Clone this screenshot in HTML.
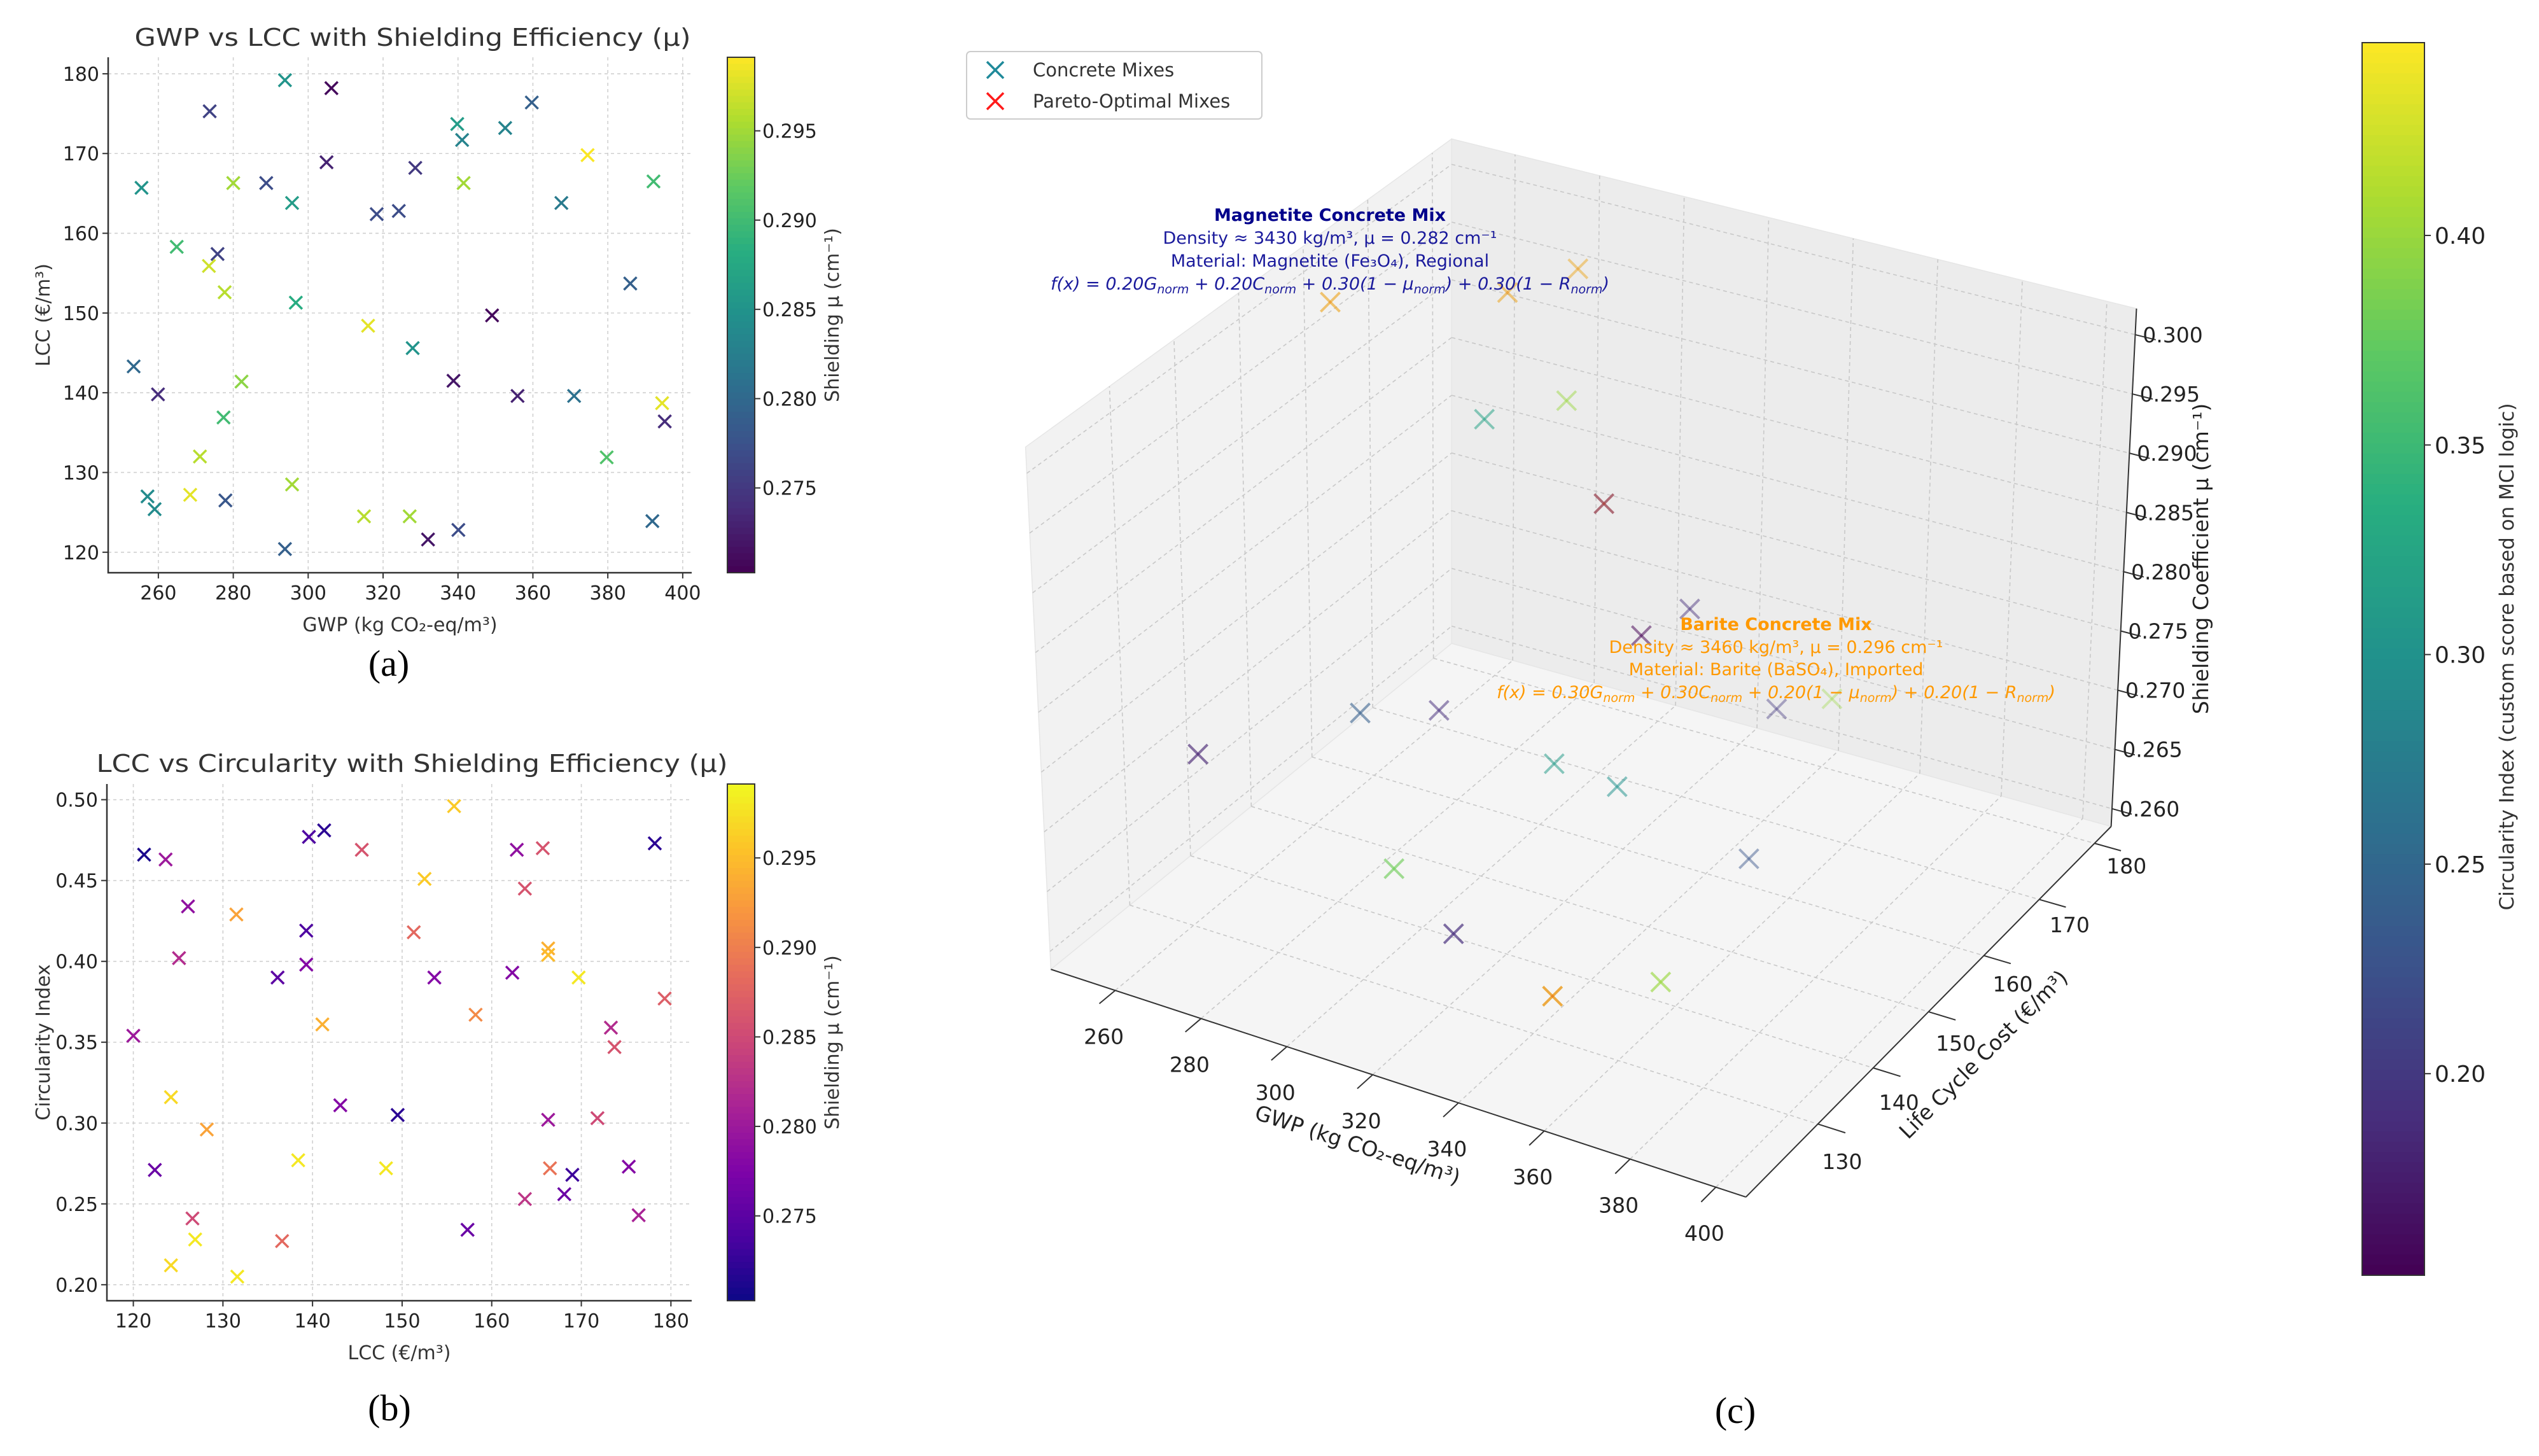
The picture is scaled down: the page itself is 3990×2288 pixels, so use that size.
<!DOCTYPE html>
<html><head><meta charset="utf-8"><style>
html,body{margin:0;padding:0;background:#fff;}
svg{display:block;font-family:"DejaVu Sans","Liberation Sans",sans-serif;}
.cap{font-family:"Liberation Serif",serif;}
</style></head><body>
<svg id="fig" xmlns="http://www.w3.org/2000/svg" width="3990" height="2288" viewBox="0 0 3990 2288">
<rect width="3990" height="2288" fill="#fff"/>
<text class="cap" x="611" y="1062" font-size="58" text-anchor="middle">(a)</text>
<text class="cap" x="612" y="2232" font-size="58" text-anchor="middle">(b)</text>
<text class="cap" x="2727" y="2236" font-size="58" text-anchor="middle">(c)</text>
</svg>
<script>
// ---------- Panel (a) data ----------
const a_gwp=[293.8,306.2,273.7,359.7,339.8,352.6,341.1,374.6,304.9,328.6,255.5,280,288.8,341.5,392.2,295.7,367.6,318.3,324.2,264.9,275.8,273.5,277.7,386,296.7,316,349.1,327.9,253.4,282.2,338.8,259.9,355.9,371.0,394.5,395.2,277.4,271.1,379.7,257.1,259,268.5,277.9,295.7,314.9,327.1,332,340.1,293.8,391.9];
const a_lcc=[179.2,178.2,175.3,176.4,173.7,173.2,171.7,169.8,168.9,168.2,165.7,166.3,166.3,166.3,166.5,163.8,163.8,162.4,162.8,158.3,157.4,155.9,152.6,153.7,151.3,148.4,149.7,145.6,143.3,141.4,141.5,139.8,139.6,139.6,138.7,136.4,136.9,132.0,131.9,127.0,125.4,127.2,126.5,128.5,124.5,124.5,121.6,122.8,120.4,123.9];
const a_mu=[0.285,0.271,0.276,0.279,0.286,0.283,0.283,0.299,0.273,0.275,0.285,0.295,0.277,0.295,0.290,0.286,0.282,0.277,0.277,0.290,0.276,0.297,0.296,0.279,0.288,0.298,0.271,0.285,0.280,0.294,0.272,0.274,0.273,0.281,0.298,0.274,0.290,0.296,0.291,0.284,0.284,0.298,0.278,0.295,0.296,0.295,0.272,0.277,0.279,0.280];
const a_xticks=[260,280,300,320,340,360,380,400];
const a_yticks=[120,130,140,150,160,170,180];
const a_cticks=[0.275,0.280,0.285,0.290,0.295];
// ---------- Panel (b) data ----------
const b_lcc=[121.2,123.6,126.1,125.1,120,124.2,128.2,122.4,126.6,126.9,124.2,131.6,131.5,136.1,139.3,139.6,141.3,139.3,141.1,143.1,138.4,136.6,145.5,149.5,148.2,152.5,151.3,153.6,155.8,158.2,157.3,162.8,162.3,165.7,163.7,166.3,166.3,166.3,163.7,166.5,169,168.1,169.7,171.8,173.3,173.7,175.3,176.4,178.2,179.3];
const b_circ=[0.466,0.463,0.434,0.402,0.354,0.316,0.296,0.271,0.241,0.228,0.212,0.205,0.429,0.390,0.419,0.477,0.481,0.398,0.361,0.311,0.277,0.227,0.469,0.305,0.272,0.451,0.418,0.390,0.496,0.367,0.234,0.469,0.393,0.470,0.445,0.408,0.404,0.302,0.253,0.272,0.268,0.256,0.390,0.303,0.359,0.347,0.273,0.243,0.473,0.377];
const b_mu=[0.271,0.280,0.279,0.282,0.280,0.297,0.293,0.276,0.285,0.298,0.297,0.298,0.293,0.275,0.274,0.274,0.272,0.278,0.294,0.278,0.298,0.288,0.286,0.272,0.298,0.296,0.288,0.278,0.296,0.291,0.276,0.279,0.278,0.286,0.286,0.294,0.295,0.280,0.283,0.289,0.273,0.276,0.298,0.285,0.282,0.286,0.278,0.281,0.272,0.287];
const b_xticks=[120,130,140,150,160,170,180];
const b_yticks=[0.20,0.25,0.30,0.35,0.40,0.45,0.50];
const b_cticks=[0.275,0.280,0.285,0.290,0.295];
// ---------- Panel (c) data ----------
const c_gwp=[256.2,287.6,294.4,301.2,310.8,328.8,339.9,337.7,351.8,356.0,281.1,290.2,252.3,317.4,332.3,354.8,298.0,321.1,348.7,360.8];
const c_lcc=[156.6,163.2,169.8,150.0,156.6,150.0,156.6,150.0,163.2,169.8,143.4,150.0,136.8,150.0,150.0,156.6,136.8,130.2,126.9,136.8];
const c_mu=[0.2998,0.3008,0.3008,0.2966,0.2964,0.2921,0.2818,0.2821,0.2719,0.2703,0.2729,0.2713,0.2692,0.2696,0.2692,0.2627,0.2645,0.2644,0.2637,0.2619];
const c_circ=[0.44,0.44,0.44,0.32,0.40,0.16,0.19,0.15,0.20,0.40,0.24,0.19,0.18,0.31,0.30,0.23,0.38,0.19,0.44,0.40];
const c_pareto=[1,1,1,0,0,1,0,0,0,0,0,0,0,0,0,0,0,0,1,0];
const c_gticks=[260,280,300,320,340,360,380,400];
const c_lticks=[130,140,150,160,170,180];
const c_zticks=[0.260,0.265,0.270,0.275,0.280,0.285,0.290,0.295,0.300];
const c_cticks=[0.20,0.25,0.30,0.35,0.40];

const NS='http://www.w3.org/2000/svg';
const svg=document.getElementById('fig');
function mk(tag,parent){const e=document.createElementNS(NS,tag);parent.appendChild(e);return e;}
function at(e,o){for(const k in o)e.setAttribute(k,o[k]);return e;}
function lerpStops(stops,t){t=Math.max(0,Math.min(1,t));const n=stops.length-1;const i=Math.min(n-1,Math.floor(t*n));const f=t*n-i;
 const h=s=>[parseInt(s.substr(1,2),16),parseInt(s.substr(3,2),16),parseInt(s.substr(5,2),16)];
 const a=h(stops[i]),b=h(stops[i+1]);return 'rgb('+a.map((v,k)=>Math.round(v+(b[k]-v)*f)).join(',')+')';}
const VIR=['#440154','#472d7b','#3b528b','#2c728e','#21918c','#28ae80','#5ec962','#addc30','#fde725'];
const PLA=['#0d0887','#4c02a1','#7e03a8','#a92395','#cc4778','#e56b5d','#f89540','#fdc328','#f0f921'];
function drawX(parent,cx,cy,col,hs,sw,op){const g=mk('g',parent);
 at(mk('line',g),{x1:cx-hs,y1:cy-hs,x2:cx+hs,y2:cy+hs,stroke:col,'stroke-width':sw,'stroke-opacity':op});
 at(mk('line',g),{x1:cx-hs,y1:cy+hs,x2:cx+hs,y2:cy-hs,stroke:col,'stroke-width':sw,'stroke-opacity':op});return g;}
function txt(parent,x,y,s,size,anchor,extra){const t=mk('text',parent);at(t,{x:x,y:y,'font-size':size,'text-anchor':anchor||'start',fill:'#222'});if(extra)at(t,extra);t.textContent=s;return t;}

// ---------- 2D panel helper ----------
function panel2D(cfg){
 const g=mk('g',svg);
 const sx=v=>cfg.L+(v-cfg.x0)/(cfg.x1-cfg.x0)*(cfg.R-cfg.L);
 const sy=v=>cfg.B-(v-cfg.y0)/(cfg.y1-cfg.y0)*(cfg.B-cfg.T);
 cfg.xt.forEach(v=>{const l=at(mk('line',g),{x1:sx(v),x2:sx(v),y1:cfg.T,y2:cfg.B,stroke:'#d0d0d0','stroke-width':1.6,'stroke-dasharray':'5,5'});
   
   
   at(mk('line',g),{x1:sx(v),x2:sx(v),y1:cfg.B,y2:cfg.B+9,stroke:'#333','stroke-width':2});
   const t=txt(g,sx(v),cfg.B+42,cfg.xfmt(v),30,'middle');
   
   });
 cfg.yt.forEach(v=>{const l=at(mk('line',g),{x1:cfg.L,x2:cfg.R,y1:sy(v),y2:sy(v),stroke:'#d0d0d0','stroke-width':1.6,'stroke-dasharray':'5,5'});
   
   
   at(mk('line',g),{x1:cfg.L-9,x2:cfg.L,y1:sy(v),y2:sy(v),stroke:'#333','stroke-width':2});
   const t=txt(g,cfg.L-14,sy(v)+11,cfg.yfmt(v),30,'end');
   
   });
 const sp=at(mk('path',g),{d:`M${cfg.L},${cfg.T}V${cfg.B}H${cfg.R}`,fill:'none',stroke:'#333','stroke-width':2.5});
 
 
 for(let i=0;i<cfg.xs.length;i++){
   const m=drawX(g,sx(cfg.xs[i]),sy(cfg.ys[i]),lerpStops(cfg.cmap,(cfg.cs[i]-cfg.c0)/(cfg.c1-cfg.c0)),10,3.5,1);
   
   
 }
 const ti=txt(g,(cfg.L+cfg.R)/2+20,cfg.titleY,cfg.title,38,'middle',{textLength:cfg.titleW,lengthAdjust:'spacingAndGlyphs',fill:'#333'});
 
 
 const xl=txt(g,(cfg.L+cfg.R)/2,cfg.B+92,cfg.xlabel,30,'middle',{fill:'#333'});
 
 
 const yc=(cfg.T+cfg.B)/2;
 const yl=txt(g,0,0,cfg.ylabel,30,'middle',{transform:`translate(78,${yc}) rotate(-90)`,fill:'#333'});
 
 
 const cb=mk('g',g);
 
 
 const N=80,cx0=1143,cw=43;
 for(let k=0;k<N;k++){const y0=cfg.T+(cfg.B-cfg.T)*k/N;at(mk('rect',cb),{x:cx0,y:y0,width:cw,height:(cfg.B-cfg.T)/N+1,fill:lerpStops(cfg.cmap,1-(k+0.5)/N)});}
 at(mk('rect',cb),{x:cx0,y:cfg.T,width:cw,height:cfg.B-cfg.T,fill:'none',stroke:'#333','stroke-width':2});
 const cy=v=>cfg.B-(v-cfg.cb0)/(cfg.cb1-cfg.cb0)*(cfg.B-cfg.T);
 cfg.ct.forEach(v=>{at(mk('line',cb),{x1:cx0+cw,x2:cx0+cw+9,y1:cy(v),y2:cy(v),stroke:'#333','stroke-width':2});
   const t=txt(cb,cx0+cw+12,cy(v)+11,v.toFixed(3),30,'start');
   
   });
 const cl=txt(cb,0,0,'Shielding μ (cm⁻¹)',30,'middle',{transform:`translate(1318,${yc}) rotate(-90)`,fill:'#333'});
 
 
 return g;
}
const pa=panel2D({L:170,R:1087,T:90,B:900,x0:246.6,x1:402.4,y0:117.43,y1:182.07,xt:a_xticks,yt:a_yticks,
 xfmt:v=>String(v),yfmt:v=>String(v),xs:a_gwp,ys:a_lcc,cs:a_mu,c0:0.27025,c1:0.29912,cb0:0.27025,cb1:0.29912,cmap:VIR,ct:a_cticks,
 title:'GWP vs LCC with Shielding Efficiency (μ)',titleW:874,titleY:72,xlabel:'GWP (kg CO₂-eq/m³)',ylabel:'LCC (€/m³)'});


const pb=panel2D({L:168,R:1087,T:1232,B:2044,x0:117.05,x1:182.32,y0:0.1901,y1:0.5097,xt:b_xticks,yt:b_yticks,
 xfmt:v=>String(v),yfmt:v=>v.toFixed(2),xs:b_lcc,ys:b_circ,cs:b_mu,c0:0.27026,c1:0.29913,cb0:0.27026,cb1:0.29913,cmap:PLA,ct:b_cticks,
 title:'LCC vs Circularity with Shielding Efficiency (μ)',titleW:992,titleY:1213,xlabel:'LCC (€/m³)',ylabel:'Circularity Index'});



// ---------- Panel (c) 3D ----------
const pc=mk('g',svg);


function P(g,l,z){
 const bx=95+685*g+l*(395-35*g), by=1050+255*g-l*(365+50*g);
 const dx=-25+35*g+l*(25-10*g), dy=-585-65*g+l*(20+50*g);
 return [1500+(bx+z*dx)*1.5944, 50+(by+z*dy)*1.4031];}
const gN=v=>(v-245)/162, lN=v=>(v-117)/66, zN=v=>(v-0.2585)/0.0437;
function poly(pts,fill,name){const p=at(mk('polygon',pc),{points:pts.map(q=>q.join(',')).join(' '),fill:fill,stroke:'#e6e6e6','stroke-width':1.5});
 
 }
poly([P(0,0,0),P(0,1,0),P(0,1,1),P(0,0,1)],'#f2f2f2','left-pane');
poly([P(0,1,0),P(1,1,0),P(1,1,1),P(0,1,1)],'#ececec','back-pane');
poly([P(0,0,0),P(1,0,0),P(1,1,0),P(0,1,0)],'#f5f5f5','floor-pane');
function gl(a,b){const l=at(mk('line',pc),{x1:a[0],y1:a[1],x2:b[0],y2:b[1],stroke:'#c8c8c8','stroke-width':1.6,'stroke-dasharray':'6,5'});
 
 }
c_gticks.forEach(v=>{const g=gN(v);gl(P(g,0,0),P(g,1,0));gl(P(g,1,0),P(g,1,1));});
c_lticks.forEach(v=>{const l=lN(v);gl(P(0,l,0),P(1,l,0));gl(P(0,l,0),P(0,l,1));});
c_zticks.forEach(v=>{const z=zN(v);gl(P(0,1,z),P(1,1,z));gl(P(0,0,z),P(0,1,z));});
function axl(a,b,name){const l=at(mk('line',pc),{x1:a[0],y1:a[1],x2:b[0],y2:b[1],stroke:'#333','stroke-width':2});
 
 }
axl(P(0,0,0),P(1,0,0),'gwp-axis-line');
axl(P(1,0,0),P(1,1,0),'lcc-axis-line');
axl(P(1,1,0),P(1,1,1),'mu-axis-line');
c_gticks.forEach(v=>{const g=gN(v);const a=P(g,0,0),b=P(g,-0.04,0);
 at(mk('line',pc),{x1:a[0],y1:a[1],x2:b[0],y2:b[1],stroke:'#333','stroke-width':2});
 const t=txt(pc,a[0]-18,a[1]+84,String(v),33,'middle');
 
 });
c_lticks.forEach(v=>{const l=lN(v);const a=P(1,l,0),b=P(1.04,l,0);
 at(mk('line',pc),{x1:a[0],y1:a[1],x2:b[0],y2:b[1],stroke:'#333','stroke-width':2});
 const t=txt(pc,a[0]+(22+10*l)*1.594,a[1]+(46-22*l)*1.403+12,String(v),33,'middle');
 
 });
c_zticks.forEach(v=>{const z=zN(v);const a=P(1,1,z),b=P(1.03,1,z);
 at(mk('line',pc),{x1:a[0],y1:a[1],x2:b[0],y2:b[1],stroke:'#333','stroke-width':2});
 const t=txt(pc,a[0]+59,a[1]+12,v.toFixed(3),33,'middle');
 
 });
const gxl=txt(pc,0,0,'GWP (kg CO₂-eq/m³)',33,'middle',{transform:'translate(2130,1810) rotate(18)'});


const lxl=txt(pc,0,0,'Life Cycle Cost (€/m³)',33,'middle',{transform:'translate(3125,1665) rotate(-45)'});


const zxl=txt(pc,0,0,'Shielding Coefficient μ (cm⁻¹)',33,'middle',{transform:'translate(3470,878) rotate(-90)'});


for(let i=0;i<c_gwp.length;i++){
 const l=lN(c_lcc[i]);const p=P(gN(c_gwp[i]),l,zN(c_mu[i]));
 const op=Math.max(0.35,0.8-0.55*l);
 const m=drawX(pc,p[0],p[1],lerpStops(VIR,(c_circ[i]-0.1519)/(0.446-0.1519)),15,4,op);
 
 
 if(c_pareto[i]){const r=drawX(pc,p[0],p[1],'#e8571a',15,4,op*0.6);
  
  }
}
const mag=mk('text',pc);at(mag,{'font-size':27,'text-anchor':'middle',fill:'#1a1a9c'});


mag.innerHTML='<tspan x="2090" y="347" font-weight="bold" fill="#00008b">Magnetite Concrete Mix</tspan><tspan x="2090" y="383">Density ≈ 3430 kg/m³, μ = 0.282 cm⁻¹</tspan><tspan x="2090" y="419">Material: Magnetite (Fe₃O₄), Regional</tspan><tspan x="2090" y="455" font-style="italic">f(x) = 0.20G<tspan font-size="19" dy="6">norm</tspan><tspan dy="-6"> + 0.20C</tspan><tspan font-size="19" dy="6">norm</tspan><tspan dy="-6"> + 0.30(1 − μ</tspan><tspan font-size="19" dy="6">norm</tspan><tspan dy="-6">) + 0.30(1 − R</tspan><tspan font-size="19" dy="6">norm</tspan><tspan dy="-6">)</tspan></tspan>';
const bar=mk('text',pc);at(bar,{'font-size':27,'text-anchor':'middle',fill:'#ff9900'});


bar.innerHTML='<tspan x="2791" y="990" font-weight="bold">Barite Concrete Mix</tspan><tspan x="2791" y="1026">Density ≈ 3460 kg/m³, μ = 0.296 cm⁻¹</tspan><tspan x="2791" y="1061">Material: Barite (BaSO₄), Imported</tspan><tspan x="2791" y="1097" font-style="italic">f(x) = 0.30G<tspan font-size="19" dy="6">norm</tspan><tspan dy="-6"> + 0.30C</tspan><tspan font-size="19" dy="6">norm</tspan><tspan dy="-6"> + 0.20(1 − μ</tspan><tspan font-size="19" dy="6">norm</tspan><tspan dy="-6">) + 0.20(1 − R</tspan><tspan font-size="19" dy="6">norm</tspan><tspan dy="-6">)</tspan></tspan>';
const lg=mk('g',pc);


at(mk('rect',lg),{x:1519,y:81,width:464,height:106,rx:6,fill:'#fff',stroke:'#ccc','stroke-width':2});
const le1=drawX(lg,1564,110,'#1f8a9a',13,3.5,1);


const le2=drawX(lg,1564,159,'#ff1a1a',13,3.5,1);


const lt1=txt(lg,1623,120,'Concrete Mixes',29,'start',{fill:'#333'});


const lt2=txt(lg,1623,169,'Pareto-Optimal Mixes',29,'start',{fill:'#333'});


const cbc=mk('g',pc);


const CT=67,CB=2004,CX=3712,CW=98,N3=120;
for(let k=0;k<N3;k++){const y0=CT+(CB-CT)*k/N3;at(mk('rect',cbc),{x:CX,y:y0,width:CW,height:(CB-CT)/N3+1,fill:lerpStops(VIR,1-(k+0.5)/N3)});}
at(mk('rect',cbc),{x:CX,y:CT,width:CW,height:CB-CT,fill:'none',stroke:'#333','stroke-width':2});
const ccy=v=>CB-(v-0.1519)/(0.446-0.1519)*(CB-CT);
c_cticks.forEach(v=>{at(mk('line',cbc),{x1:CX+CW,x2:CX+CW+10,y1:ccy(v),y2:ccy(v),stroke:'#333','stroke-width':2});
 const t=txt(cbc,CX+CW+16,ccy(v)+13,v.toFixed(2),36,'start');
 
 });
const ccl=txt(cbc,0,0,'Circularity Index (custom score based on MCI logic)',31,'middle',{transform:'translate(3950,1032) rotate(-90)',fill:'#333'});


</script>
</body></html>
